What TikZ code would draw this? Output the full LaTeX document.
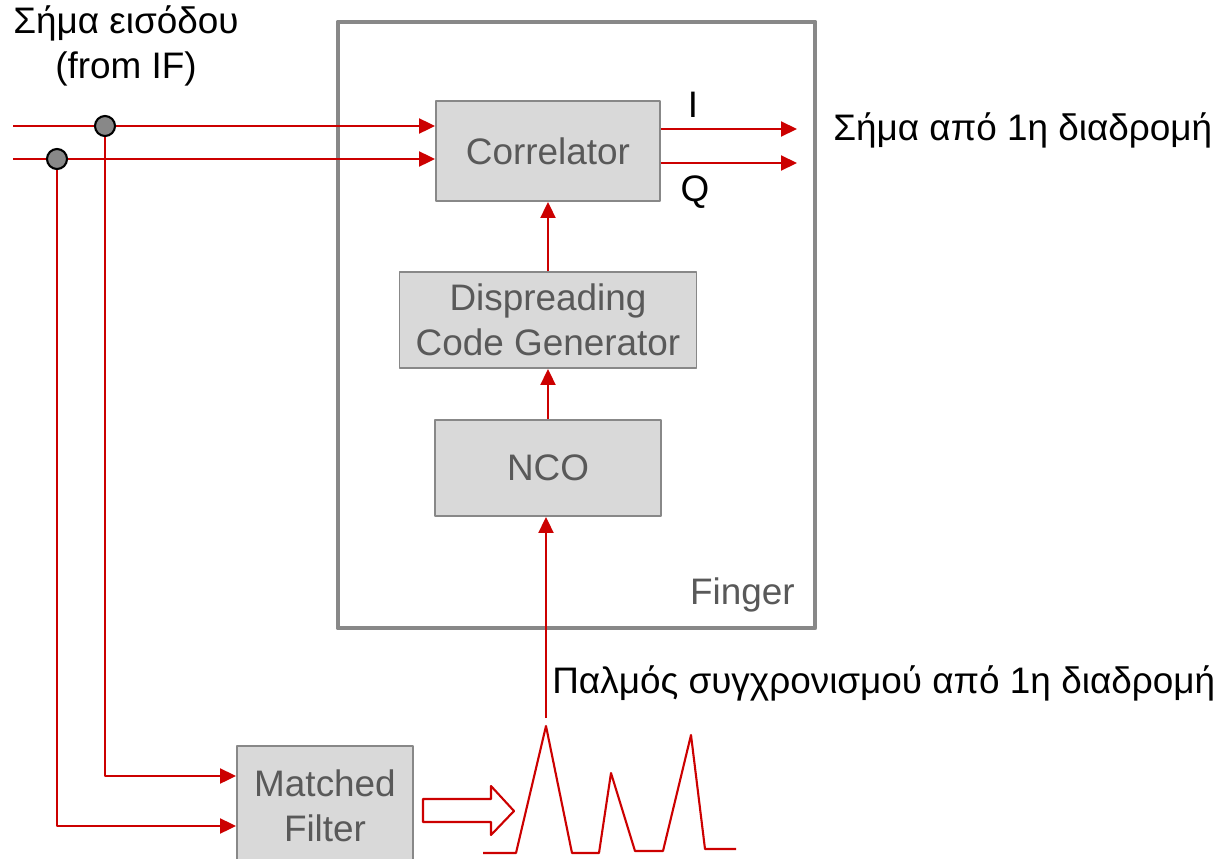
\documentclass[tikz,border=0pt]{standalone}
\usepackage{fontspec}
\setmainfont{Liberation Sans}
\usetikzlibrary{arrows.meta,positioning}
\definecolor{sigred}{RGB}{204,0,0}
\definecolor{boxfill}{RGB}{217,217,217}
\definecolor{boxline}{RGB}{136,136,136}
\definecolor{boxtext}{RGB}{89,89,89}
\begin{document}
\begin{tikzpicture}[x=0.02cm, y=-0.02cm, font=\fontsize{21}{25.5}\selectfont, line join=round,
  >={Triangle[length=0.32cm,width=0.3cm]},
  blk/.style={draw=boxline, line width=1.1pt, fill=boxfill, text=boxtext, align=center, inner sep=0pt},
  sig/.style={draw=sigred, line width=1.2pt},
  dot/.style={circle, draw=black, line width=1.2pt, fill=boxline, minimum size=0.4cm, inner sep=0pt}]
	\useasboundingbox (0,0) rectangle (1228,859);
	% finger
	\draw[boxline, line width=2.8pt] (338,22) rectangle (815,628);
	\node[text=boxtext, anchor=south east, inner sep=0pt] (fing) at (795,613) {Finger};
	\node[blk, minimum width=4.48cm, minimum height=2cm] (corr) at (548,151) {Correlator};
	\node[blk, minimum width=5.94cm, minimum height=1.92cm] (dcg) at (548,320) {Dispreading\\Code Generator};
	\node[blk, minimum width=4.52cm, minimum height=1.92cm] (nco) at (548,468) {NCO};
	\node[blk, minimum width=3.52cm, minimum height=2.4cm] (mf) at (325,806) {Matched\\Filter};
	% inputs
	\node[align=center, inner sep=0pt] (inlab) at (126,46) {Σήμα εισόδου\\(from IF)};
	\coordinate (in1) at (13,126);
	\coordinate (in2) at (13,159);
	\draw[sig,->] (in1) -- (in1 -| corr.west);
	\draw[sig,->] (in2) -- (in2 -| corr.west);
	\node[dot] (d1) at (105,126) {};
	\node[dot] (d2) at (57,159) {};
	\draw[sig,->] (d1.south) |- ([yshift=0.6cm]mf.west);
	\draw[sig,->] (d2.south) |- ([yshift=-0.4cm]mf.west);
	% outputs
	\coordinate (out1) at (797,129);
	\coordinate (out2) at (797,163);
	\draw[sig,->] (out1 -| corr.east) -- (out1);
	\draw[sig,->] (out2 -| corr.east) -- (out2);
	\node (ilab) at (693,105) {I};
	\node (qlab) at (695,192) {Q};
	\node[anchor=west, inner sep=0pt] (outlab) at (833,130) {Σήμα από 1η διαδρομή};
	% inside finger
	\draw[sig,->] (dcg) -- (corr);
	\draw[sig,->] (nco) -- (dcg);
	% matched filter output
	\draw[sigred, line width=1.2pt] (423,799) -- (491,799) -- (491,786) -- (514,811) -- (491,835) -- (491,822) -- (423,822) -- cycle;
	\draw[sig] (483,853) -- (516,853) -- (546,726) -- (572,853) -- (599,853) -- (611,773) -- (635,851) -- (663,851) -- (691,735) -- (705,849) -- (736,849);
	\coordinate (pk) at (546,718);
	\draw[sig,->] (pk) -- (pk |- nco.south);
	\node[anchor=west, inner sep=0pt] (pklab) at (552,683) {Παλμός συγχρονισμού από 1η διαδρομή};
\end{tikzpicture}
\end{document}
